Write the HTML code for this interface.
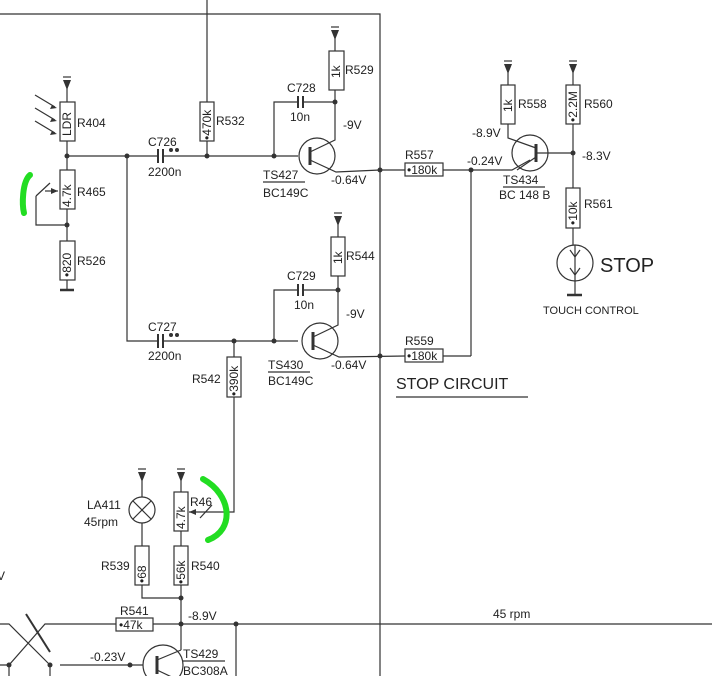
<!DOCTYPE html>
<html><head><meta charset="utf-8"><style>
html,body{margin:0;padding:0;background:#fff}
svg{display:block}
text{font-family:"Liberation Sans",sans-serif;fill:#222;font-size:12px}
</style></head><body>
<svg width="712" height="676" viewBox="0 0 712 676" xmlns="http://www.w3.org/2000/svg">
<g stroke="#333" stroke-width="1.2" fill="none">
<polyline points="0,14 380,14 380,676"/>
<line x1="207" y1="0" x2="207" y2="102"/>
<line x1="207" y1="141" x2="207" y2="156"/>
<line x1="67" y1="156" x2="158" y2="156"/>
<line x1="163" y1="156" x2="298" y2="156"/>
<polyline points="127,156 127,341 158,341"/>
<line x1="163" y1="341" x2="298" y2="341"/>
<line x1="67" y1="88" x2="67" y2="102"/>
<rect x="60" y="102" width="15" height="39"/>
<line x1="67" y1="141" x2="67" y2="170"/>
<rect x="60" y="170" width="15" height="39"/>
<line x1="67" y1="209" x2="67" y2="241"/>
<rect x="60" y="241" width="15" height="39"/>
<line x1="67" y1="280" x2="67" y2="289"/>
<line x1="60" y1="290" x2="74" y2="290" stroke-width="2.5"/>
<polyline points="36,196 36,225 67,225"/>
<line x1="36" y1="196" x2="50" y2="183"/>
<line x1="45" y1="191" x2="58" y2="191"/>
<line x1="35" y1="95" x2="55" y2="107"/><line x1="35" y1="108" x2="55" y2="120"/><line x1="35" y1="121" x2="55" y2="133"/>
<line x1="158" y1="149" x2="158" y2="163" stroke-width="2"/><line x1="163" y1="149" x2="163" y2="163" stroke-width="2"/>
<line x1="158" y1="334" x2="158" y2="348" stroke-width="2"/><line x1="163" y1="334" x2="163" y2="348" stroke-width="2"/>
<rect x="200" y="102" width="14" height="39"/>
<circle cx="317" cy="156" r="18"/>
<line x1="310" y1="147" x2="310" y2="165" stroke-width="3"/>
<polyline points="310,152 335,140 335,102"/>
<polyline points="310,160 336,172 380,170"/>
<polyline points="274,156 274,102 298,102"/><line x1="303" y1="102" x2="335" y2="102"/>
<line x1="298" y1="96" x2="298" y2="108" stroke-width="2"/><line x1="303" y1="96" x2="303" y2="108" stroke-width="2"/>
<rect x="329" y="51" width="15" height="39"/>
<line x1="335" y1="90" x2="335" y2="102"/><line x1="335" y1="38" x2="335" y2="51"/>
<circle cx="320" cy="341" r="18"/>
<line x1="313" y1="332" x2="313" y2="350" stroke-width="3"/>
<polyline points="313,337 338,325 338,290"/>
<polyline points="313,345 339,357 405,356"/>
<polyline points="274,341 274,290 298,290"/><line x1="303" y1="290" x2="338" y2="290"/>
<line x1="298" y1="284" x2="298" y2="296" stroke-width="2"/><line x1="303" y1="284" x2="303" y2="296" stroke-width="2"/>
<rect x="331" y="237" width="14" height="39"/>
<line x1="338" y1="276" x2="338" y2="290"/><line x1="338" y1="224" x2="338" y2="237"/>
<line x1="380" y1="170" x2="405" y2="170"/>
<rect x="405" y="163" width="38" height="13"/>
<polyline points="443,170 512,170 530,160"/>
<line x1="471" y1="170" x2="471" y2="356"/>
<rect x="405" y="349" width="38" height="13"/>
<line x1="443" y1="356" x2="471" y2="356"/>
<circle cx="530" cy="153" r="18"/>
<line x1="536" y1="144" x2="536" y2="162" stroke-width="3"/>
<polyline points="508,124 508,138 536,148"/>
<line x1="536" y1="157" x2="517" y2="170"/>
<line x1="536" y1="153" x2="573" y2="153"/>
<rect x="501" y="85" width="14" height="39"/>
<line x1="508" y1="72" x2="508" y2="85"/>
<rect x="566" y="85" width="14" height="39"/>
<line x1="573" y1="72" x2="573" y2="85"/>
<line x1="573" y1="124" x2="573" y2="188"/>
<rect x="566" y="188" width="14" height="40"/>
<line x1="573" y1="228" x2="573" y2="245"/>
<circle cx="575" cy="263" r="18"/>
<line x1="575" y1="245" x2="575" y2="295"/>
<polyline points="570,250 575,257 580,250"/><polyline points="570,268 575,275 580,268"/>
<line x1="567" y1="295" x2="582" y2="295" stroke-width="2.5"/>
<line x1="396" y1="397" x2="528" y2="397"/>
<rect x="227" y="357" width="14" height="40"/>
<line x1="234" y1="341" x2="234" y2="357"/>
<polyline points="234,397 234,512 189,512"/>
<line x1="200" y1="518" x2="212" y2="505"/>
<line x1="142" y1="480" x2="142" y2="497"/>
<circle cx="142" cy="510" r="13"/>
<line x1="133" y1="501" x2="151" y2="519"/><line x1="151" y1="501" x2="133" y2="519"/>
<line x1="142" y1="523" x2="142" y2="546"/>
<rect x="135" y="546" width="14" height="39"/>
<polyline points="142,585 142,598 181,598"/>
<line x1="181" y1="480" x2="181" y2="492"/>
<rect x="174" y="492" width="14" height="39"/>
<line x1="181" y1="531" x2="181" y2="546"/>
<rect x="174" y="546" width="14" height="39"/>
<line x1="181" y1="585" x2="181" y2="650"/>
<polyline points="0,624 9,624 50,665"/>
<polyline points="0,665 9,665 45,624 116,624"/>
<line x1="26" y1="614" x2="50" y2="652" stroke-width="2"/>
<rect x="116" y="618" width="37" height="13"/>
<line x1="153" y1="624" x2="712" y2="624"/>
<line x1="236" y1="624" x2="236" y2="676"/>
<line x1="9" y1="665" x2="9" y2="676"/><line x1="50" y1="665" x2="50" y2="676"/>
<line x1="60" y1="665" x2="143" y2="665"/>
<circle cx="163" cy="665" r="20"/>
<line x1="157" y1="656" x2="157" y2="674" stroke-width="3"/>
<line x1="157" y1="660" x2="181" y2="650"/>
<line x1="157" y1="670" x2="178" y2="680"/>
</g>
<g fill="#333">
<circle cx="207" cy="156" r="2.5"/><circle cx="127" cy="156" r="2.5"/><circle cx="67" cy="156" r="2.5"/>
<circle cx="67" cy="225" r="2.5"/><circle cx="274" cy="156" r="2.5"/><circle cx="335" cy="102" r="2.5"/>
<circle cx="380" cy="170" r="2.5"/><circle cx="274" cy="341" r="2.5"/><circle cx="338" cy="290" r="2.5"/>
<circle cx="234" cy="341" r="2.5"/><circle cx="380" cy="356" r="2.5"/><circle cx="471" cy="170" r="2.5"/>
<circle cx="573" cy="153" r="2.5"/><circle cx="181" cy="598" r="2.5"/><circle cx="181" cy="624" r="2.5"/>
<circle cx="236" cy="624" r="2.5"/><circle cx="130" cy="665" r="2.5"/><circle cx="50" cy="665" r="2.5"/><circle cx="9" cy="665" r="2.5"/>
<polygon points="63,80 71,80 67,90"/><polygon points="331,30 339,30 335,40"/><polygon points="334,216 342,216 338,226"/>
<polygon points="504,64 512,64 508,74"/><polygon points="569,64 577,64 573,74"/>
<polygon points="138,472 146,472 142,482"/><polygon points="177,472 185,472 181,482"/>
<polygon points="52,131 57,134 50,135"/><polygon points="52,118 57,121 50,122"/><polygon points="52,105 57,108 50,109"/>
<polygon points="58,191 51,188 51,194"/><polygon points="189,512 196,509 196,515"/>
<circle cx="171" cy="150" r="2"/><circle cx="177" cy="150" r="2"/><circle cx="171" cy="335" r="2"/><circle cx="177" cy="335" r="2"/>
</g>
<g stroke="#333" fill="none" stroke-width="1.2">
<line x1="63" y1="77" x2="71" y2="77"/><line x1="331" y1="27" x2="339" y2="27"/><line x1="334" y1="213" x2="342" y2="213"/>
<line x1="504" y1="61" x2="512" y2="61"/><line x1="569" y1="61" x2="577" y2="61"/>
<line x1="138" y1="469" x2="146" y2="469"/><line x1="177" y1="469" x2="185" y2="469"/>
<line x1="263" y1="182" x2="305" y2="182"/><line x1="268" y1="372" x2="310" y2="372"/><line x1="503" y1="187" x2="545" y2="187"/><line x1="183" y1="661" x2="225" y2="661"/>
</g>
<path d="M30,175 C22,182 22,205 24,213" stroke="#22dd22" stroke-width="6" fill="none" stroke-linecap="round"/>
<path d="M203,479 C232,495 235,530 208,540" stroke="#22dd22" stroke-width="6" fill="none" stroke-linecap="round"/>
<text x="77" y="127">R404</text><text x="77" y="196">R465</text><text x="77" y="265">R526</text>
<text x="148" y="146">C726</text><text x="148" y="176">2200n</text>
<text x="148" y="331">C727</text><text x="148" y="360">2200n</text>
<text x="216" y="125">R532</text><text x="345" y="74">R529</text><text x="346" y="260">R544</text>
<text x="287" y="92">C728</text><text x="290" y="121">10n</text>
<text x="287" y="280">C729</text><text x="294" y="309">10n</text>
<text x="343" y="129">-9V</text><text x="346" y="318">-9V</text>
<text x="263" y="179">TS427</text><text x="263" y="197">BC149C</text><text x="331" y="184">-0.64V</text>
<text x="268" y="369">TS430</text><text x="268" y="385">BC149C</text><text x="331" y="369">-0.64V</text>
<text x="405" y="159">R557</text><text x="405" y="345">R559</text>
<text x="467" y="165">-0.24V</text><text x="472" y="137">-8.9V</text><text x="582" y="160">-8.3V</text>
<text x="518" y="108">R558</text><text x="584" y="108">R560</text><text x="584" y="208">R561</text>
<text x="503" y="184">TS434</text><text x="499" y="199">BC 148 B</text>
<text x="600" y="272" style="font-size:20px">STOP</text>
<text x="543" y="314" style="font-size:11px">TOUCH  CONTROL</text>
<text x="396" y="389" style="font-size:16px">STOP  CIRCUIT</text>
<text x="192" y="383">R542</text>
<text x="87" y="509">LA411</text><text x="84" y="526">45rpm</text>
<text x="190" y="506">R46</text><text x="101" y="570">R539</text><text x="191" y="570">R540</text>
<text x="120" y="615">R541</text><text x="188" y="620">-8.9V</text><text x="493" y="618">45 rpm</text>
<text x="90" y="661">-0.23V</text><text x="183" y="658">TS429</text><text x="183" y="675">BC308A</text>
<text x="-3" y="580">V</text>
<g style="font-size:11px">
<text transform="translate(71,136) rotate(-90)">LDR</text>
<text transform="translate(71,207) rotate(-90)">4.7k</text>
<text transform="translate(71,277) rotate(-90)">•820</text>
<text transform="translate(211,140) rotate(-90)">•470k</text>
<text transform="translate(340,78) rotate(-90)">1k</text>
<text transform="translate(342,264) rotate(-90)">1k</text>
<text transform="translate(512,112) rotate(-90)">1k</text>
<text transform="translate(577,122) rotate(-90)">•2.2M</text>
<text transform="translate(577,225) rotate(-90)">•10k</text>
<text transform="translate(238,396) rotate(-90)">•390k</text>
<text transform="translate(185,529) rotate(-90)">4.7k</text>
<text transform="translate(146,583) rotate(-90)">•68</text>
<text transform="translate(185,584) rotate(-90)">•56k</text>
<text x="407" y="174">•180k</text><text x="407" y="360">•180k</text><text x="119" y="629">•47k</text>
</g>
</svg>
</body></html>
